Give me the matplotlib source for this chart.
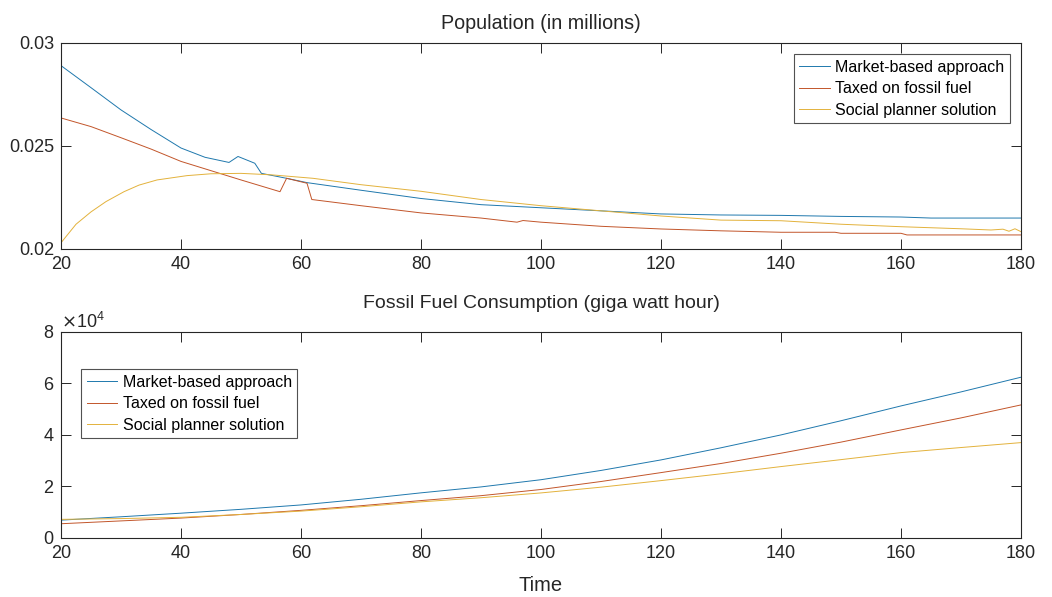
import matplotlib
matplotlib.use('Agg')
import matplotlib.pyplot as plt
from matplotlib.ticker import ScalarFormatter

# ---- data ----
pop_market_x = [20, 25, 30, 35, 40, 44, 48, 49.5, 52.3, 53.4, 57.6, 61, 70, 80, 90,
                100, 110, 120, 130, 140, 150, 160, 165, 180]
pop_market_y = [0.0289, 0.02783, 0.02675, 0.0258, 0.0249, 0.02445, 0.0242, 0.02449, 0.02416,
                0.02367, 0.02343, 0.02322, 0.02285, 0.02245, 0.02215, 0.0220, 0.02185, 0.0217,
                0.02165, 0.02163, 0.02158, 0.02155, 0.0215, 0.0215]

pop_tax_x = [20, 25, 30, 35, 40, 45, 50, 56.5, 57.6, 61, 61.8, 70, 80, 90, 96, 97, 100,
             110, 120, 130, 140, 149, 150, 160, 161, 180]
pop_tax_y = [0.02636, 0.02594, 0.0254, 0.02485, 0.02425, 0.0238, 0.02335, 0.02278, 0.02343,
             0.02319, 0.0224, 0.0221, 0.02175, 0.0215, 0.0213, 0.02138, 0.0213,
             0.0211, 0.02097, 0.02088, 0.02081, 0.02081, 0.02076, 0.02076, 0.02068, 0.02068]

pop_social_x = [20, 22.5, 25, 27.5, 30.5, 33, 36, 41, 45, 50, 55, 62, 70, 80, 90, 100, 110,
                120, 130, 140, 150, 160, 170, 175, 177, 178, 179, 180]
pop_social_y = [0.0203, 0.0212, 0.0218, 0.0223, 0.02278, 0.0231, 0.02335, 0.02356, 0.02365,
                0.02367, 0.0236, 0.02343, 0.02312, 0.0228, 0.0224, 0.0221, 0.02185, 0.0216,
                0.0214, 0.02137, 0.0212, 0.02108, 0.02098, 0.02092, 0.02096, 0.02086, 0.02098,
                0.02084]

ff_x = [20, 30, 40, 50, 60, 70, 80, 90, 100, 110, 120, 130, 140, 150, 160, 170, 180]
ff_market = [6900, 8200, 9600, 11100, 12800, 15000, 17500, 19800, 22600, 26200, 30290,
             35000, 40000, 45500, 51260, 56700, 62410]
ff_tax = [5500, 6600, 7700, 9100, 10700, 12500, 14500, 16400, 18800, 21900, 25360,
          28900, 32890, 37200, 41940, 46600, 51650]
ff_social = [7200, 7500, 8000, 9100, 10400, 12100, 14000, 15600, 17470, 19700, 22250,
             24900, 27700, 30400, 33130, 35100, 37010]

labels = ["Market-based approach", "Taxed on fossil fuel", "Social planner solution"]
colors = ["#1f78ad", "#c2552a", "#e3b23c"]

plt.rcParams['font.family'] = ['Liberation Sans', 'DejaVu Sans']
AX_COL = "#262626"

fig = plt.figure(figsize=(10.52, 5.97), dpi=100)
fig.patch.set_facecolor("white")
ax1 = fig.add_axes([0.058, 0.583, 0.9125, 0.345])
ax2 = fig.add_axes([0.058, 0.099, 0.9125, 0.345])


def style(ax):
    ax.tick_params(direction='in', top=True, right=True, length=7, width=0.7,
                   labelsize=13, colors=AX_COL, pad=5)
    for s in ax.spines.values():
        s.set_linewidth(0.8)
        s.set_color(AX_COL)
    ax.set_xlim(20, 180)
    ax.set_xticks(range(20, 181, 20))


def legend(ax, **kw):
    leg = ax.legend(fontsize=11.5, frameon=True, fancybox=False, handlelength=1.9,
                    handletextpad=0.35, borderpad=0.35, labelspacing=0.4, **kw)
    leg.get_frame().set_edgecolor(AX_COL)
    leg.get_frame().set_linewidth(0.8)
    return leg


ax1.plot(pop_market_x, pop_market_y, color=colors[0], lw=0.7, label=labels[0])
ax1.plot(pop_tax_x, pop_tax_y, color=colors[1], lw=0.7, label=labels[1])
ax1.plot(pop_social_x, pop_social_y, color=colors[2], lw=0.7, label=labels[2])
style(ax1)
ax1.set_ylim(0.02, 0.03)
ax1.set_yticks([0.02, 0.025, 0.03])
ax1.set_yticklabels(["0.02", "0.025", "0.03"])
ax1.set_title("Population (in millions)", fontsize=14.2, color=AX_COL, pad=10)
legend(ax1, loc='upper right', bbox_to_anchor=(0.9885, 0.945), borderaxespad=0)

ax2.plot(ff_x, ff_market, color=colors[0], lw=0.7, label=labels[0])
ax2.plot(ff_x, ff_tax, color=colors[1], lw=0.7, label=labels[1])
ax2.plot(ff_x, ff_social, color=colors[2], lw=0.7, label=labels[2])
style(ax2)
ax2.set_ylim(0, 80000)
ax2.set_yticks([0, 20000, 40000, 60000, 80000])
fmt = ScalarFormatter(useMathText=True)
fmt.set_powerlimits((0, 0))
ax2.yaxis.set_major_formatter(fmt)
ax2.yaxis.get_offset_text().set_fontsize(13)
ax2.yaxis.get_offset_text().set_color(AX_COL)
ax2.set_title("Fossil Fuel Consumption (giga watt hour)", fontsize=14, color=AX_COL, pad=17)
ax2.set_xlabel("Time", fontsize=14.5, color=AX_COL, labelpad=10)
legend(ax2, loc='upper left', bbox_to_anchor=(0.021, 0.818), borderaxespad=0)

fig.savefig("out.png", dpi=100, facecolor="white")
